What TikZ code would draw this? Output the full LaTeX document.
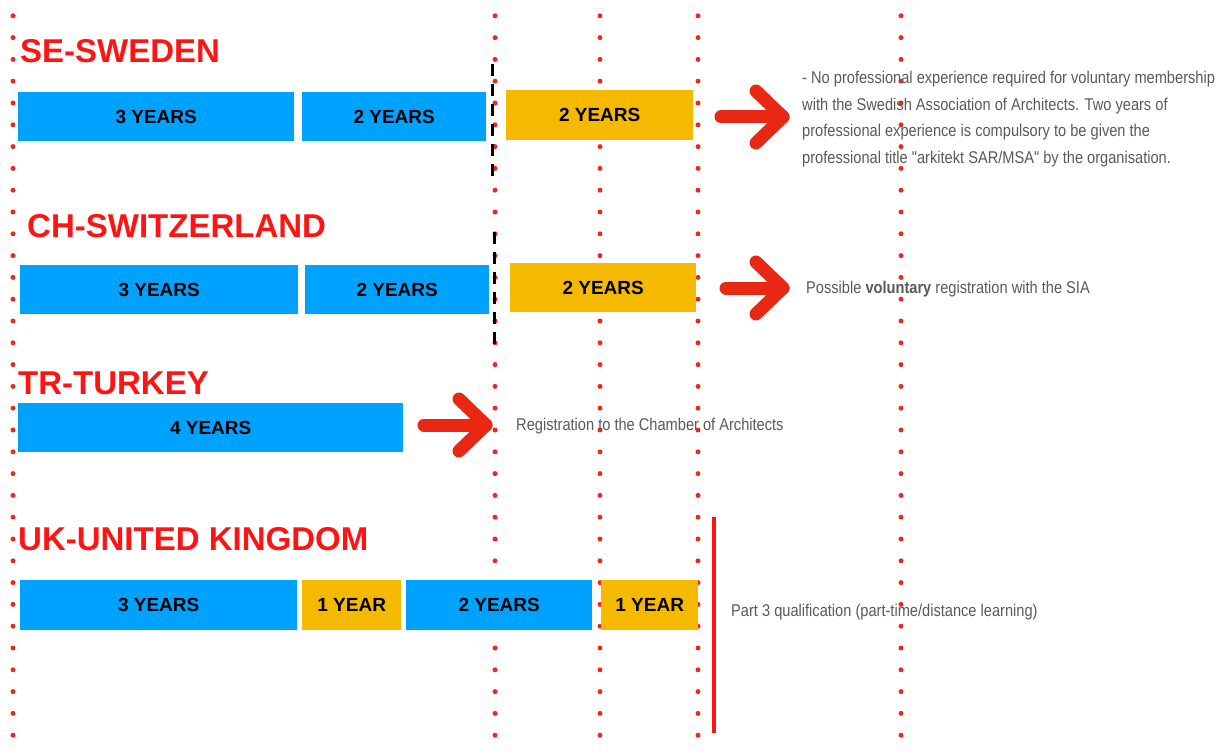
\documentclass[tikz,border=0pt]{standalone}
\usepackage{fontspec}
\setmainfont{Liberation Sans}
\newfontfamily\condfont[FakeStretch=0.86]{Liberation Sans}
\usetikzlibrary{calc}
\definecolor{barblue}{RGB}{0,162,255}
\definecolor{barorange}{RGB}{245,185,0}
\definecolor{titlered}{RGB}{255,20,20}
\definecolor{arrowred}{RGB}{232,40,18}
\definecolor{dotred}{RGB}{238,40,30}
\definecolor{notegray}{RGB}{90,90,90}
\tikzset{
  bar/.style={anchor=north west, inner sep=0pt, minimum height=49pt,
    font=\bfseries\fontsize{19}{19}\selectfont, text=black},
  bluebar/.style={bar, fill=barblue},
  orangebar/.style={bar, fill=barorange},
  title/.style={anchor=base west, inner sep=0pt, text=titlered,
    font=\bfseries\fontsize{33}{33}\selectfont},
  note/.style={inner sep=0pt, text=notegray,
    font=\condfont\fontsize{17}{26.7}\selectfont},
  dotline/.style={dotred, line width=5pt, line cap=round, dash pattern=on 0pt off 21.8pt, dash phase=6pt},
  blackdash/.style={black, line width=3pt, dash pattern=on 12pt off 8pt},
  bigarrow/.style={arrowred, line width=13pt, line cap=round, line join=round},
}
\begin{document}
\begin{tikzpicture}[x=1pt,y=-1pt]
\useasboundingbox[fill=white] (0,0) rectangle (1223,754);

% dotted guide lines
\foreach \gx/\gn in {13/ga,495/gb,600/gc,698/gd,901/ge}{
  \coordinate (\gn top) at (\gx,0);
  \coordinate (\gn bot) at (\gx,754);
  \draw[dotline] (\gn top) -- (\gn bot);
}

% black dashed separators
\coordinate (sea) at (492,64);
\coordinate (seb) at (492,178);
\draw[blackdash] (sea) -- (seb);
\coordinate (cha) at (494,232);
\coordinate (chb) at (494,348);
\draw[blackdash] (cha) -- (chb);

% ---------------- Sweden
\node[title] (tse) at (20,63) {SE-SWEDEN};
\node[bluebar, minimum width=276pt] (se1) at (18,92) {3 YEARS};
\node[bluebar, minimum width=184pt] (se2) at (302,92) {2 YEARS};
\node[orangebar, minimum width=187pt, minimum height=50pt] (se3) at (506,90) {2 YEARS};
\coordinate (seat) at (721,117);
\coordinate (seah) at (783,117);
\draw[bigarrow] (seat) -- (seah);
\draw[bigarrow] ($(seah)+(-27,-26)$) -- (seah) -- ($(seah)+(-27,26)$);
\node[note, anchor=north west, align=left] (sen) at (802,71)
 {- No professional experience required for voluntary membership\\
  with the Swedish Association of Architects. Two years of\\
  professional experience is compulsory to be given the\\
  professional title "arkitekt SAR/MSA" by the organisation.};

% ---------------- Switzerland
\node[title] (tch) at (27,237) {CH-SWITZERLAND};
\node[bluebar, minimum width=278pt] (ch1) at (20,265) {3 YEARS};
\node[bluebar, minimum width=184pt] (ch2) at (305,265) {2 YEARS};
\node[orangebar, minimum width=186pt] (ch3) at (510,263) {2 YEARS};
\coordinate (chat) at (726,288);
\coordinate (chah) at (783,288);
\draw[bigarrow] (chat) -- (chah);
\draw[bigarrow] ($(chah)+(-27,-26)$) -- (chah) -- ($(chah)+(-27,26)$);
\node[note, anchor=base west] (chn) at (806,293)
 {Possible {\bfseries voluntary} registration with the SIA};

% ---------------- Turkey
\node[title] (ttr) at (18,394) {TR-TURKEY};
\node[bluebar, minimum width=385pt] (tr1) at (18,403) {4 YEARS};
\coordinate (trat) at (424,425);
\coordinate (trah) at (486,425);
\draw[bigarrow] (trat) -- (trah);
\draw[bigarrow] ($(trah)+(-27,-26)$) -- (trah) -- ($(trah)+(-27,26)$);
\node[note, anchor=base west] (trn) at (516,430)
 {Registration to the Chamber of Architects};

% ---------------- United Kingdom
\node[title] (tuk) at (18,550) {UK-UNITED KINGDOM};
\node[bluebar, minimum width=277pt, minimum height=50pt] (uk1) at (20,580) {3 YEARS};
\node[orangebar, minimum width=99pt, minimum height=50pt] (uk2) at (302,580) {1 YEAR};
\node[bluebar, minimum width=186pt, minimum height=50pt] (uk3) at (406,580) {2 YEARS};
\node[orangebar, minimum width=97pt, minimum height=50pt] (uk4) at (601,580) {1 YEAR};
\coordinate (ukla) at (714,517);
\coordinate (uklb) at (714,733);
\draw[titlered, line width=4pt] (ukla) -- (uklb);
\node[note, anchor=base west] (ukn) at (731,616)
 {Part 3 qualification (part-time/distance learning)};
\end{tikzpicture}
\end{document}
